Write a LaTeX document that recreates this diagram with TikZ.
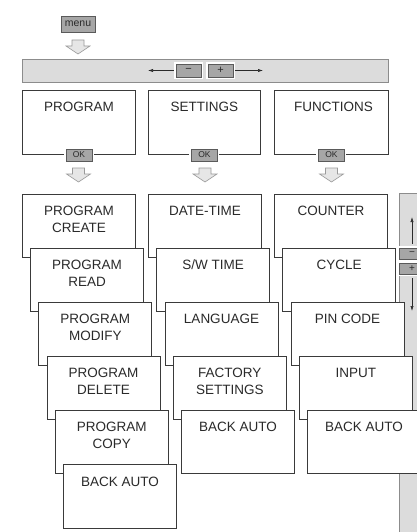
\documentclass[tikz,border=0pt]{standalone}
\usepackage{fontspec}
\setmainfont{Liberation Sans}
\usetikzlibrary{arrows.meta}
\definecolor{boxc}{HTML}{3A3A3A}
\definecolor{txt}{HTML}{2A2A2A}
\definecolor{btnf}{HTML}{A6A6A6}
\definecolor{btnb}{HTML}{5A5A5A}
\definecolor{barf}{HTML}{DCDCDC}
\definecolor{barb}{HTML}{8C8C8C}
\definecolor{arrf}{HTML}{E6E6E6}
\definecolor{arrb}{HTML}{9A9A9A}
\tikzset{
  box/.style={draw=boxc, fill=white, line width=0.8pt, minimum width=113pt, minimum height=63pt, inner sep=0pt, anchor=north west},
  topbox/.style={box, minimum height=64pt},
  lbl/.style={anchor=north, inner sep=0pt, text=txt, font=\fontsize{13.5}{16.5}\selectfont, align=center},
  btn/.style={draw=btnb, fill=btnf, line width=0.6pt, minimum width=26pt, minimum height=12pt, inner sep=0pt, text=txt,
              font=\fontsize{8.5}{9}\selectfont, preaction={draw=white, line width=4pt}},
  bar/.style={draw=barb, fill=barf, line width=0.7pt},
  thinarrow/.style={draw=txt, line width=0.6pt, -{Latex[length=5pt,width=3.2pt]}},
  blockarrow/.pic={\draw[draw=arrb, fill=arrf, line width=0.6pt]
     (-6,0) -- (6,0) -- (6,6) -- (12,6) -- (0,14) -- (-12,6) -- (-6,6) -- cycle;}
}
\begin{document}
\begin{tikzpicture}[x=1pt,y=-1pt]
\useasboundingbox (0,0) rectangle (417,532);
\fill[white] (0,0) rectangle (417,532);

% menu button and arrow
\node[btn, minimum width=34pt, minimum height=16pt, font=\fontsize{10.5}{11}\selectfont, preaction={}] (menu) at (78,24) {menu};
\pic (amenu) at (78,40) {blockarrow};

% top bar
\path[bar] (22,59) rectangle (388,82);
\node[btn, minimum width=25pt, minimum height=13pt, font=\fontsize{11}{11}\selectfont] (minus) at (188.5,70.5) {−};
\node[btn, minimum width=25pt, minimum height=13pt, font=\fontsize{11}{11}\selectfont] (plus) at (220.5,70.5) {+};
\coordinate (lefttip) at (148,70.5);
\coordinate (righttip) at (263,70.5);
\draw[thinarrow, shorten <=2pt] (minus.west) -- (lefttip);
\draw[thinarrow, shorten <=2pt] (plus.east) -- (righttip);

% right vertical bar
\path[bar] (399,193) rectangle (440,545);
\node[btn, minimum height=11pt, font=\fontsize{10}{10}\selectfont, preaction={draw=white, line width=3pt}] (rminus) at (412,253.5) {−};
\node[btn, minimum height=11pt, font=\fontsize{10}{10}\selectfont, preaction={draw=white, line width=3pt}] (rplus) at (412,268.5) {+};
\coordinate (uptip) at (412,217);
\coordinate (downtip) at (412,311);
\draw[thinarrow, shorten <=4pt] (rminus.north) -- (uptip);
\draw[thinarrow, shorten <=4pt] (rplus.south) -- (downtip);

% top boxes
\node[topbox] (prog) at (22,90) {};
\node[lbl] (tprog) at ([yshift=-12pt]prog.north) {PROGRAM};
\node[topbox, minimum width=112pt] (sett) at (148,90) {};
\node[lbl] (tsett) at ([yshift=-12pt]sett.north) {SETTINGS};
\node[topbox, minimum width=114pt] (func) at (274,90) {};
\node[lbl] (tfunc) at ([yshift=-12pt,xshift=2pt]func.north) {FUNCTIONS};

\node[btn] (okprog) at (prog.south) {OK};
\node[btn] (oksett) at (sett.south) {OK};
\node[btn] (okfunc) at (func.south) {OK};
\pic (aprog) at (78.5,168) {blockarrow};
\pic (asett) at (205,168) {blockarrow};
\pic (afunc) at (331.5,168) {blockarrow};

% column 1
\node[box] (c1) at (22,194) {};
\node[lbl] (tc1) at ([yshift=-12pt]c1.north) {PROGRAM\\CREATE};
\node[box] (c2) at (30.2,248) {};
\node[lbl] (tc2) at ([yshift=-12pt]c2.north) {PROGRAM\\READ};
\node[box] (c3) at (38.4,302) {};
\node[lbl] (tc3) at ([yshift=-12pt]c3.north) {PROGRAM\\MODIFY};
\node[box] (c4) at (46.6,356) {};
\node[lbl] (tc4) at ([yshift=-12pt]c4.north) {PROGRAM\\DELETE};
\node[box] (c5) at (54.8,410) {};
\node[lbl] (tc5) at ([yshift=-12pt]c5.north) {PROGRAM\\COPY};
\node[box, minimum height=64pt] (c6) at (63,464) {};
\node[lbl] (tc6) at ([yshift=-13pt]c6.north) {BACK AUTO};

% column 2
\node[box] (s1) at (148,194) {};
\node[lbl] (ts1) at ([yshift=-12pt]s1.north) {DATE-TIME};
\node[box] (s2) at (156.3,248) {};
\node[lbl] (ts2) at ([yshift=-12pt]s2.north) {S/W TIME};
\node[box] (s3) at (164.6,302) {};
\node[lbl] (ts3) at ([yshift=-12pt]s3.north) {LANGUAGE};
\node[box] (s4) at (172.9,356) {};
\node[lbl] (ts4) at ([yshift=-12pt]s4.north) {FACTORY\\SETTINGS};
\node[box] (s5) at (181.2,410) {};
\node[lbl] (ts5) at ([yshift=-12pt]s5.north) {BACK AUTO};

% column 3
\node[box] (f1) at (274,194) {};
\node[lbl] (tf1) at ([yshift=-12pt]f1.north) {COUNTER};
\node[box] (f2) at (282.3,248) {};
\node[lbl] (tf2) at ([yshift=-12pt]f2.north) {CYCLE};
\node[box] (f3) at (290.6,302) {};
\node[lbl] (tf3) at ([yshift=-12pt]f3.north) {PIN CODE};
\node[box] (f4) at (298.9,356) {};
\node[lbl] (tf4) at ([yshift=-12pt]f4.north) {INPUT};
\node[box] (f5) at (307.2,410) {};
\node[lbl] (tf5) at ([yshift=-12pt]f5.north) {BACK AUTO};
\end{tikzpicture}
\end{document}
